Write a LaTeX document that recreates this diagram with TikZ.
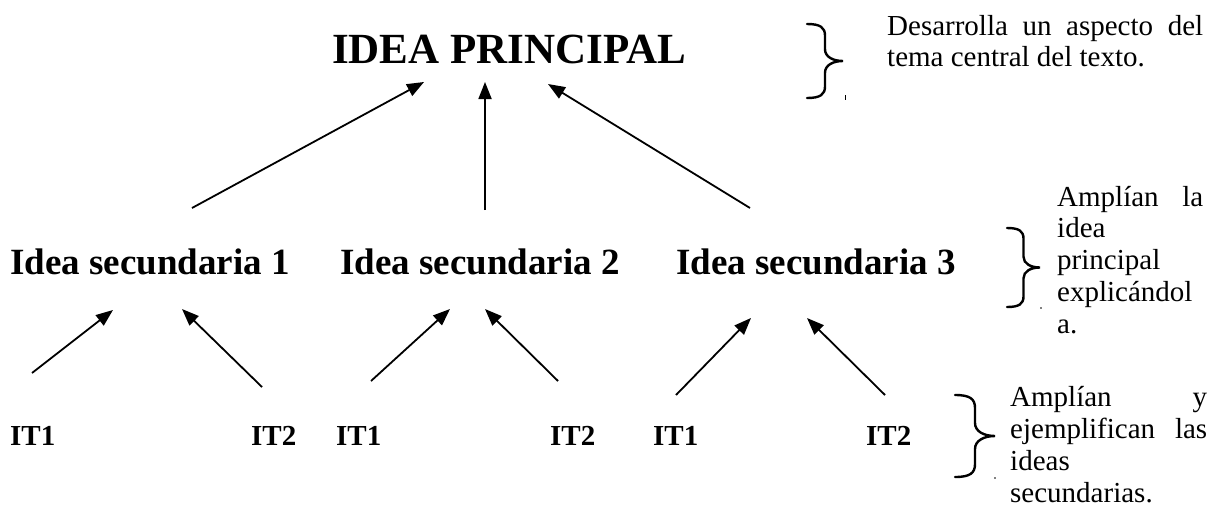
\documentclass[tikz,border=0pt]{standalone}
\usepackage{fontspec}
\setmainfont{Liberation Serif}
\usetikzlibrary{arrows.meta}
\tikzset{
  conn/.style={line width=1.8pt, -{Triangle[length=17pt,width=13pt]}},
  titletext/.style={font=\fontsize{43}{48}\selectfont\bfseries, inner sep=0pt, anchor=base west},
  secondtext/.style={font=\fontsize{37}{42}\selectfont\bfseries, inner sep=0pt, anchor=base west},
  itemtext/.style={font=\fontsize{29}{32}\selectfont\bfseries, inner sep=0pt, anchor=base west},
  notetext/.style={font=\fontsize{29}{32}\selectfont, inner sep=0pt, anchor=base west},
  bracestyle/.style={line width=2.4pt, line cap=round},
  markstyle/.style={line width=1pt},
}
% right brace: #1 = x of the ends, #2 = top y, #3 = bottom y, #4 = x of the tip
\newcommand{\wordbrace}[4]{%
  \pgfmathsetmacro\bxm{(#1+#4)/2}%
  \pgfmathsetmacro\bym{(#2+#3)/2}%
  \pgfmathsetmacro\bh{(#4-#1)/2}%
  \pgfmathsetmacro\br{0.65*\bh}%
  \draw[bracestyle] (#1,#2)
    .. controls ({#1+0.75*\bh},#2) and (\bxm,{#2+0.3*\br}) .. (\bxm,{#2+\br})
    -- (\bxm,{\bym-\br})
    .. controls (\bxm,{\bym-0.35*\br}) and ({\bxm+0.45*\bh},\bym) .. (#4,\bym)
    .. controls ({\bxm+0.45*\bh},\bym) and (\bxm,{\bym+0.35*\br}) .. (\bxm,{\bym+\br})
    -- (\bxm,{#3-\br})
    .. controls (\bxm,{#3-0.3*\br}) and ({#1+0.75*\bh},#3) .. (#1,#3);
}
\begin{document}
\begin{tikzpicture}[x=1pt,y=-1pt]
\useasboundingbox (0,0) rectangle (1217,512);

% texts
\node[titletext] (main) at (332,63) {IDEA PRINCIPAL};
\node[secondtext] (s1) at (10,274) {Idea secundaria 1};
\node[secondtext] (s2) at (340,274) {Idea secundaria 2};
\node[secondtext] (s3) at (676,274) {Idea secundaria 3};

\node[itemtext] (i1a) at (10,445) {IT1};
\node[itemtext] (i2a) at (251,445) {IT2};
\node[itemtext] (i1b) at (336,445) {IT1};
\node[itemtext] (i2b) at (550,445) {IT2};
\node[itemtext] (i1c) at (653,445) {IT1};
\node[itemtext] (i2c) at (866,445) {IT2};

% notes
\node[notetext] (n1) at (887,35) {\vtop{%
  \hbox to 316pt{Desarrolla\hfill un\hfill aspecto\hfill del}%
  \vskip -1pt
  \hbox{tema central del texto.}}};
\node[notetext] (n2) at (1057,206) {\vtop{%
  \hbox to 146pt{Amplían\hfill la}%
  \vskip -1pt
  \hbox{idea}%
  \hbox{principal}%
  \hbox{explicándol}%
  \hbox{a.}}};
\node[notetext] (n3) at (1010,406) {\vtop{%
  \hbox to 197pt{Amplían\hfill y}%
  \hbox to 197pt{ejemplifican\hfill las}%
  \hbox{ideas}%
  \hbox{secundarias.}}};

% braces
\wordbrace{807}{24}{98}{843}
\wordbrace{1007}{228}{307}{1040}
\wordbrace{955}{395}{477}{995}

% small marks beside the braces
\draw[markstyle] (845,95) -- (845,100);
\fill (1041,308) circle (0.8);
\fill (995,478) circle (0.8);

% arrow end points
\coordinate (t1) at (192,208); \coordinate (h1) at (424,82);
\coordinate (t2) at (485,210); \coordinate (h2) at (485,82);
\coordinate (t3) at (750,208); \coordinate (h3) at (548,84);

\coordinate (a1t) at (32,373);  \coordinate (a1h) at (113,310);
\coordinate (a2t) at (262,387); \coordinate (a2h) at (182,309);
\coordinate (a3t) at (371,381); \coordinate (a3h) at (450,309);
\coordinate (a4t) at (558,381); \coordinate (a4h) at (485,309);
\coordinate (a5t) at (676,395); \coordinate (a5h) at (751,318);
\coordinate (a6t) at (885,395); \coordinate (a6h) at (807,318);

\draw[conn] (t1) -- (h1);
\draw[conn] (t2) -- (h2);
\draw[conn] (t3) -- (h3);
\draw[conn] (a1t) -- (a1h);
\draw[conn] (a2t) -- (a2h);
\draw[conn] (a3t) -- (a3h);
\draw[conn] (a4t) -- (a4h);
\draw[conn] (a5t) -- (a5h);
\draw[conn] (a6t) -- (a6h);
\end{tikzpicture}
\end{document}
